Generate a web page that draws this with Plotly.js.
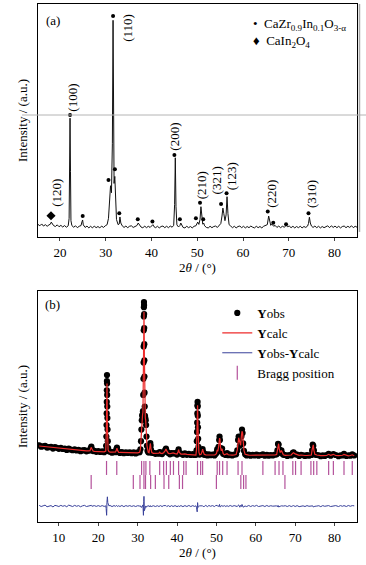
<!DOCTYPE html>
<html><head><meta charset="utf-8">
<script src="https://cdn.plot.ly/plotly-3.0.1.min.js"></script>
<style>html,body{margin:0;padding:0;background:#fff}#chart{width:366px;height:565px}</style>
</head><body><div id="chart"></div>
<script>
// ---------- Panel (a): XRD pattern ----------
const xrdAngle = [
15.2,15.6,16.0,16.4,16.8,17.2,17.6,17.9,18.1,18.3,
18.6,19.0,19.4,19.8,20.2,20.6,21.0,21.4,21.8,22.0,
22.1,22.2,22.3,22.4,22.6,23.0,23.4,23.8,24.2,24.6,
24.8,24.95,25.1,25.5,25.9,26.3,26.7,27.1,27.5,27.9,
28.3,28.7,29.1,29.5,29.9,30.3,30.6,30.85,31.05,31.25,
31.45,31.6,31.72,31.82,31.98,32.12,32.35,32.7,32.95,33.1,
33.3,33.6,34.0,34.4,34.8,35.2,35.6,36.0,36.4,36.8,
37.1,37.35,37.7,38.1,38.5,38.9,39.3,39.7,40.05,40.3,
40.55,40.9,41.3,41.7,42.1,42.5,42.9,43.3,43.7,44.1,
44.5,44.85,45.05,45.2,45.35,45.55,45.9,46.2,46.4,46.6,
46.9,47.3,47.7,48.1,48.5,48.9,49.3,49.7,50.1,50.35,
50.6,50.8,51.0,51.2,51.4,51.6,52.0,52.4,52.8,53.2,
53.6,54.0,54.4,54.8,55.15,55.4,55.6,55.8,56.05,56.3,
56.5,56.7,56.95,57.3,57.7,58.1,58.5,58.9,59.3,59.7,
60.1,60.5,60.9,61.3,61.7,62.1,62.5,62.9,63.3,63.7,
64.1,64.5,64.9,65.3,65.6,65.8,66.05,66.3,66.5,66.7,
67.0,67.4,67.8,68.2,68.6,69.0,69.3,69.5,69.7,70.1,
70.5,70.9,71.3,71.7,72.1,72.5,72.9,73.3,73.7,74.1,
74.3,74.5,74.7,74.95,75.3,75.7,76.1,76.5,76.9,77.3,
77.7,78.1,78.5,78.9,79.3,79.7,80.1,80.5,80.9,81.3,
81.7,82.1,82.5,82.9,83.3,83.7,84.1,84.5,84.9];
const xrdIntensity = [
5.4,4.8,5.6,4.7,5.3,4.6,5.2,5.5,6.4,5.7,
4.9,4.5,5.2,4.4,5.0,4.3,4.9,4.2,4.8,8,
30,51,28,7,4.9,4.2,4.8,4.0,4.6,4.9,
6.5,7.3,5.2,4.1,4.7,3.9,4.6,3.9,4.7,4.0,
4.5,3.9,4.7,4.1,4.8,5.3,8,16,22,19,
40,93,45,23,26,17,7.5,5.3,5.6,8.6,
6.0,4.8,4.1,4.7,4.0,4.6,4.8,4.1,4.7,4.9,
6.0,5.0,4.3,3.9,4.7,4.0,4.6,4.1,4.7,5.3,
4.4,4.0,4.6,3.9,4.5,4.7,4.0,4.6,4.0,4.7,
4.2,5.0,14,34,13,5.2,4.3,4.9,6.0,4.9,
4.1,3.9,4.6,4.0,4.5,3.9,4.6,4.8,6.4,5.4,
7.5,13,7.0,5.5,6.0,4.8,4.1,3.9,4.6,4.0,
4.5,4.7,4.1,4.8,5.8,9,12.4,10,7.0,9.5,
17.3,10,5.3,4.7,4.0,4.6,3.9,4.5,4.7,4.0,
4.6,3.9,4.5,4.0,4.7,4.2,3.9,4.6,4.0,4.5,
3.9,4.6,4.8,5.3,9.0,6.5,5.0,5.5,5.2,4.6,
5.0,4.1,4.7,4.0,4.6,4.2,4.7,5.0,4.4,4.7,
4.0,4.6,3.9,4.5,4.0,4.6,3.9,4.5,4.1,4.7,
5.8,8.5,6.0,4.7,4.1,4.7,4.0,4.6,3.9,4.5,
4.0,4.6,4.8,4.0,4.8,4.1,4.7,4.0,4.6,3.9,
4.5,4.7,4.0,4.6,4.1,4.8,4.0,4.6,4.2];

// phase markers (CaZr0.9In0.1O3-a dots, CaIn2O4 diamond)
const perovDotX = [22.2,31.6,45.0,50.6,55.2,56.4,65.4,74.3,24.97,30.6,32.0,32.96,37.0,40.2,46.2,49.7,51.3,66.6,69.4];
const perovDotY = [52.4,94.8,35.2,14.7,14.2,18.8,10.9,10.2,9.0,24.5,29.1,10.2,7.6,6.6,7.6,8.0,7.6,6.1,5.5];
const impurityX = [18.04];
const impurityY = [9.1];

// hkl labels
const hklText = ['(120)','(100)','(110)','(200)','(210)','(321)','(123)','(220)','(310)'];
const hklX = [19.3,22.8,34.6,45.1,51.0,54.2,57.65,66.3,75.1];
const hklY = [18.9,59.7,89.7,43.0,22.1,24.5,26.2,18.5,18.5];

// ---------- Panel (b): Rietveld refinement ----------
const refAngle = [
5,5.5,6,6.5,7,7.5,8,8.5,9,9.5,
10,10.5,11,11.5,12,12.5,13,13.5,14,14.5,
15,15.5,16,16.5,17,17.5,17.9,18.1,18.25,18.4,
18.7,19,19.5,20,20.5,21,21.5,21.9,22.0,22.06,
22.1,22.13,22.16,22.18,22.2,22.22,22.24,22.26,22.29,22.32,
22.36,22.42,22.5,22.7,23,23.5,24,24.4,24.6,24.75,
24.9,25.2,25.5,26,26.5,27,27.5,28,28.5,29,
29.5,30,30.5,30.7,30.85,30.95,31.05,31.15,31.25,31.35,
31.42,31.47,31.5,31.53,31.55,31.57,31.59,31.61,31.63,31.65,
31.67,31.69,31.71,31.73,31.76,31.8,31.87,31.95,32.05,32.15,
32.25,32.35,32.5,32.7,32.9,33.05,33.15,33.22,33.3,33.4,
33.6,34,34.5,35,35.4,35.6,35.8,36.2,36.6,37,
37.2,37.4,37.8,38.2,38.6,39,39.5,40,40.25,40.4,
40.55,41,41.5,42,42.5,43,43.5,44,44.4,44.8,
44.95,45.03,45.08,45.12,45.16,45.19,45.22,45.25,45.28,45.32,
45.37,45.43,45.55,45.75,46.1,46.35,46.5,46.65,46.9,47.3,
47.7,48.1,48.5,49,49.5,49.8,50.05,50.2,50.35,50.55,
50.7,50.8,50.9,51.05,51.25,51.45,51.7,52,52.4,52.7,
53,53.5,54,54.5,55,55.3,55.5,55.65,55.8,55.95,
56.15,56.35,56.5,56.65,56.8,57,57.3,57.7,58.2,58.7,
59.2,59.7,60.2,60.7,61.2,61.8,62.3,62.8,63.3,63.8,
64.3,64.9,65.3,65.5,65.65,65.8,65.95,66.2,66.5,66.75,
67,67.5,68,68.5,69,69.4,69.6,70,70.5,71,
71.5,72,72.5,73,73.5,74.1,74.3,74.45,74.6,74.75,
75,75.5,76,76.5,77,77.5,78,78.5,79,79.7,
80.3,81,81.5,82,82.4,83,83.5,84,84.5,85];
const yObs = [
33.2,32.6,32.8,33.0,32.2,32.4,32.5,31.8,32.4,32.1,
31.7,32.1,31.6,31.8,31.2,31.8,31.35,31.1,31.5,31.0,
31.2,30.65,31.0,31.15,30.6,30.9,31.0,32.0,32.6,31.5,
30.7,30.8,30.4,30.7,30.3,30.6,30.2,30.8,33,37,
42,47,52,57,61,63.6,60,55,50,45,
40,35,32,30.6,30.5,30.0,30.4,30.2,31.4,32.2,
30.8,30.3,29.9,30.3,29.8,30.2,29.9,30.2,29.8,30.1,
29.7,30.1,30.2,31.5,35,40,44,46,46.5,48,
55,62,69,76,83,89,93,95.2,94,90,
84,77,70,63,56,50,46,45,44,42,
37,33,30.8,30.2,30.1,31.5,33.5,34.2,33.0,31.2,
30.0,29.9,29.5,29.8,29.6,30.3,30.0,29.4,30.2,31.1,
31.8,30.6,29.9,29.3,29.8,29.7,29.8,29.2,30.5,31.4,
30.0,29.6,29.1,29.7,29.1,29.5,29.0,29.4,29.0,29.1,
31,35,39,43,47,50.5,52,50,46,41,
36,32.5,30,29.2,29.5,30.6,31.6,30.3,29.1,29.4,
28.8,29.3,28.9,29.2,28.8,29.4,30.0,31.5,30.5,32.5,
35.5,37,35.5,32,31,31.8,29.6,29.3,29.0,29.8,
28.9,29.2,28.8,29.2,29.3,31,35.5,37,35.5,33,
33.5,37,40,38.5,34,30.8,29.3,28.8,29.2,28.7,
29.1,28.8,29.2,28.7,29.0,29.3,28.7,29.1,28.7,29.0,
28.8,29.2,29.3,31,33.8,33.5,31.5,30,31,29.6,
29.1,29.0,28.6,29.0,28.8,29.9,30.2,29.3,29.2,28.6,
29.1,28.9,28.6,29.0,28.7,29.0,31,33.5,33,31,
29.2,29.0,28.9,28.5,28.9,28.6,29.0,29.5,28.7,29.4,
29.0,28.5,28.9,28.8,29.5,28.6,28.9,28.7,29.3,28.8];
const yCalc = [
32.9,32.8,32.7,32.6,32.5,32.4,32.3,32.2,32.1,32.0,
31.9,31.8,31.7,31.6,31.5,31.4,31.35,31.3,31.2,31.1,
31.0,30.95,30.9,30.85,30.8,30.8,30.9,31.8,32.3,31.6,
30.75,30.6,30.55,30.5,30.45,30.4,30.35,30.7,34,40,
46,51,55,58,59.5,60,58,53,47,41,
37,33.5,31.2,30.5,30.25,30.22,30.2,30.3,31.2,32.0,
31.0,30.15,30.1,30.05,30.05,30.0,30.0,30.0,29.95,29.95,
29.9,29.95,30.2,31.4,35.5,40.5,44.5,46,46.5,47.5,
57,66,72,77,81,85,89,91,90.5,88,
84,78.5,72,65,57.5,51,46.5,45,44,42,
37.5,33.2,30.8,30.2,30.0,31.8,33.3,34.0,33.2,31.5,
30.1,29.75,29.7,29.65,29.8,30.2,29.8,29.6,30.0,30.9,
31.6,30.8,29.7,29.55,29.6,29.9,29.6,29.45,30.3,31.3,
30.2,29.4,29.35,29.5,29.3,29.25,29.2,29.2,29.15,29.0,
31.5,36.5,41.5,45.5,48.5,50,50.5,49,45.5,41,
36.5,33,30.2,29.1,29.3,30.4,31.5,30.5,29.3,29.1,
29.05,29.05,29.0,29.0,29.0,29.2,29.8,31.2,30.6,32.5,
35.5,36.3,35.9,32.3,30.8,31.7,29.7,29.1,29.2,29.6,
29.1,28.95,28.95,29.0,29.2,31.2,35.2,36.5,35.5,33.5,
33.2,37.2,39.3,38.6,34.5,31,29.3,29.0,28.95,28.9,
28.9,28.9,28.9,28.9,28.9,29.1,28.9,28.85,28.85,28.85,
28.85,29.1,29.2,31.3,33.5,33.9,31.7,30.1,30.9,29.6,
29.1,28.85,28.8,28.8,29.0,29.8,30.0,29.5,29.0,28.85,
29.0,28.8,28.8,28.8,28.8,29.0,31.2,33.4,33.4,31.1,
29.3,29.0,28.75,28.75,28.7,28.7,28.8,29.3,28.9,29.3,
28.8,28.7,28.7,28.9,29.3,28.8,28.65,28.8,29.1,28.7];

// Bragg reflection positions
const braggPerovskite = [22.1,24.7,31.0,31.6,32.1,33.1,35.6,36.6,37.3,38.3,39.1,40.4,41.7,42.3,45.2,46.0,46.5,50.2,50.8,51.6,52.7,55.5,56.5,61.8,64.9,65.9,66.9,69.4,70.1,71.5,74.0,74.7,75.5,78.5,79.7,82.4,84.5];
const braggCaIn2O4 = [18.2,28.9,30.6,31.6,32.0,33.3,34.5,36.7,37.9,40.6,41.4,50.0,56.2,56.9,57.5,67.4];

// ---------- drawing ----------
const FONT = '"Liberation Serif", "Times New Roman", serif';
const diffOffset = 6.9, braggRow1 = 23.4, braggRow2 = 17.3;
const yDiff = yObs.map((v, i) => v - yCalc[i] + diffOffset);

const traces = [
  {x: xrdAngle, y: xrdIntensity, xaxis: 'x', yaxis: 'y', mode: 'lines',
   line: {color: '#111', width: 1}, showlegend: false, hoverinfo: 'skip'},
  {x: perovDotX, y: perovDotY, xaxis: 'x', yaxis: 'y', mode: 'markers',
   marker: {color: '#000', size: 4}, showlegend: false},
  {x: impurityX, y: impurityY, xaxis: 'x', yaxis: 'y', mode: 'markers',
   marker: {color: '#000', size: 7, symbol: 'diamond'}, showlegend: false},

  {x: refAngle, y: yObs, xaxis: 'x2', yaxis: 'y2', mode: 'markers', name: '<b>Y</b>obs',
   marker: {color: '#000', size: 6.2}},
  {x: refAngle, y: yCalc, xaxis: 'x2', yaxis: 'y2', mode: 'lines', name: '<b>Y</b>calc',
   line: {color: '#ee2b2b', width: 1.2}},
  {x: refAngle, y: yDiff, xaxis: 'x2', yaxis: 'y2', mode: 'lines', name: '<b>Y</b>obs-<b>Y</b>calc',
   line: {color: '#38409a', width: 1}},
  {x: braggPerovskite, y: braggPerovskite.map(() => braggRow1), xaxis: 'x2', yaxis: 'y2',
   mode: 'markers', name: 'Bragg position',
   marker: {symbol: 'line-ns-open', size: 10, color: '#b4529b', line: {width: 1.2}}},
  {x: braggCaIn2O4, y: braggCaIn2O4.map(() => braggRow2), xaxis: 'x2', yaxis: 'y2',
   mode: 'markers', showlegend: false,
   marker: {symbol: 'line-ns-open', size: 10, color: '#b4529b', line: {width: 1.2}}}
];

const axisCommon = {showline: true, mirror: true, linecolor: '#000', linewidth: 1,
  showgrid: false, zeroline: false};
const annotations = hklText.map((t, i) => ({
  x: hklX[i], y: hklY[i], xref: 'x', yref: 'y', text: t, textangle: -90,
  showarrow: false, xanchor: 'center', yanchor: 'middle', font: {family: FONT, size: 13, color: '#000'}
}));
annotations.push(
  {xref: 'paper', yref: 'paper', x: 0.047, y: 0.969, text: '(a)', showarrow: false,
   xanchor: 'center', yanchor: 'middle', font: {family: FONT, size: 13, color: '#000'}},
  {xref: 'paper', yref: 'paper', x: 0.047, y: 0.419, text: '(b)', showarrow: false,
   xanchor: 'center', yanchor: 'middle', font: {family: FONT, size: 13, color: '#000'}},
  {xref: 'paper', yref: 'paper', x: 0.668, y: 0.960, text: '•  CaZr<sub>0.9</sub>In<sub>0.1</sub>O<sub>3-α</sub>',
   showarrow: false, xanchor: 'left', yanchor: 'middle', font: {family: FONT, size: 13, color: '#000'}},
  {xref: 'paper', yref: 'paper', x: 0.668, y: 0.927, text: '♦  CaIn<sub>2</sub>O<sub>4</sub>',
   showarrow: false, xanchor: 'left', yanchor: 'middle', font: {family: FONT, size: 13, color: '#000'}}
);

const layout = {
  width: 366, height: 565,
  margin: {l: 38, r: 9, t: 4, b: 43},
  paper_bgcolor: '#fff', plot_bgcolor: '#fff',
  font: {family: FONT, size: 13, color: '#000'},
  xaxis: Object.assign({}, axisCommon, {domain: [0, 1], anchor: 'y', range: [15.2, 84.9],
    tickvals: [20, 30, 40, 50, 60, 70, 80], ticks: 'outside', ticklen: 3,
    tickfont: {family: FONT, size: 13}, title: {text: '2<i>θ</i> / (°)', font: {family: FONT, size: 13}, standoff: 4}}),
  yaxis: Object.assign({}, axisCommon, {domain: [0.5502, 1], anchor: 'x', range: [0, 100],
    showticklabels: false, ticks: '', title: {text: 'Intensity / (a.u.)', font: {family: FONT, size: 13}, standoff: 6}}),
  xaxis2: Object.assign({}, axisCommon, {domain: [0, 1], anchor: 'y2', range: [4.7, 85.7],
    tickvals: [10, 20, 30, 40, 50, 60, 70, 80], ticks: 'outside', ticklen: 3,
    tickfont: {family: FONT, size: 13}, title: {text: '2<i>θ</i> / (°)', font: {family: FONT, size: 13}, standoff: 4}}),
  yaxis2: Object.assign({}, axisCommon, {domain: [0, 0.4459], anchor: 'x2', range: [0, 100],
    showticklabels: false, ticks: '', title: {text: 'Intensity / (a.u.)', font: {family: FONT, size: 13}, standoff: 6}}),
  showlegend: true,
  legend: {x: 0.562, y: 0.4324, xanchor: 'left', yanchor: 'top', bgcolor: 'rgba(0,0,0,0)',
    font: {family: FONT, size: 13, color: '#000'}, tracegroupgap: 0, itemwidth: 30},
  annotations: annotations,
  shapes: [
    {type: 'line', xref: 'paper', yref: 'paper', x0: -0.05, x1: 1.03, y0: 0.7857, y1: 0.7857,
     line: {color: '#b4b4b4', width: 1}},
    {type: 'line', xref: 'paper', yref: 'paper', x0: 1.0078, x1: 1.0078, y0: 1.0, y1: 0.56,
     line: {color: '#a8a8a8', width: 1.5}}
  ]
};

Plotly.newPlot('chart', traces, layout, {staticPlot: true, displayModeBar: false});
</script>
</body></html>
